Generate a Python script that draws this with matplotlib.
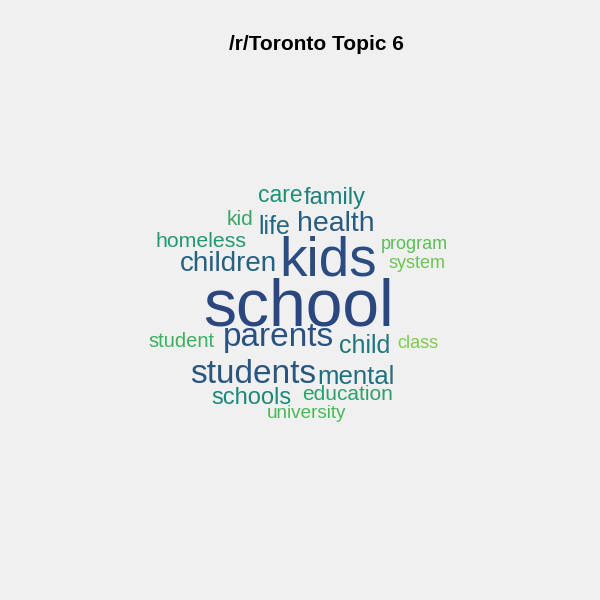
import matplotlib
matplotlib.use("Agg")
import matplotlib.pyplot as plt
from matplotlib.colors import LinearSegmentedColormap

# words, ordered by weight (font size in pt)
words = ["school", "kids", "parents", "students", "health", "children", "life",
         "mental", "child", "family", "schools", "care", "homeless", "education",
         "kid", "student", "university", "program", "system", "class"]
sizes = [47.5, 39.5, 24, 24, 20.5, 20, 18, 18.5, 18, 17, 17, 16.5, 15.3, 15,
         15, 14.5, 13.6, 13, 13, 13]

# layout: word center x and baseline y (pixels)
pos_x = [298, 328, 278, 253, 336, 228, 274, 356, 365, 335, 251, 280, 201, 348,
         240, 181, 306, 414, 417, 418]
pos_y = [325, 275, 346, 383, 231, 271, 234, 384, 353, 204, 404, 202, 247, 400,
         225, 347, 418, 249, 268, 348]

bg = "#f0f0f0"
fig = plt.figure(figsize=(6, 6), dpi=100, facecolor=bg)
ax = fig.add_axes([0, 0, 1, 1])
ax.set_facecolor(bg)
ax.set_xlim(0, 600)
ax.set_ylim(600, 0)
ax.axis("off")

cmap = LinearSegmentedColormap.from_list(
    "wc", ["#2b477f", "#285a82", "#1f737f", "#1e9474", "#3db160", "#7acd4a"])
n = len(words)
for i, w in enumerate(words):
    col = cmap(i / (n - 1))
    ax.text(pos_x[i], pos_y[i], w, fontsize=sizes[i], color=col,
            family="Liberation Sans", ha="center", va="baseline")

fig.text(316 / 600, 1 - 44 / 600, "/r/Toronto Topic 6", fontsize=15,
         fontweight="bold", family="Liberation Sans", ha="center", va="center")

fig.savefig("out.png", dpi=100, facecolor=bg)
